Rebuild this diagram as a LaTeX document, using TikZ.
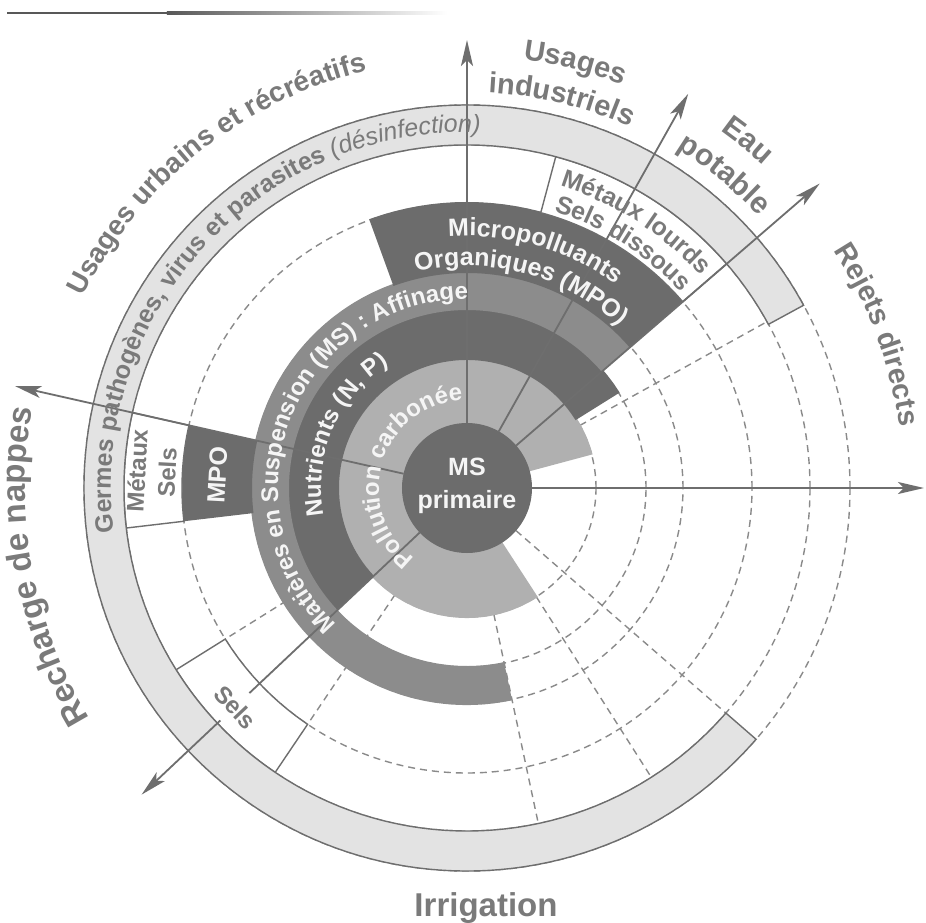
\documentclass[tikz,border=0pt]{standalone}
\usepackage{fontspec}
\setmainfont{Liberation Sans}
\usetikzlibrary{decorations.text,arrows.meta}
\definecolor{dk}{HTML}{6C6C6C}
\definecolor{md}{HTML}{8C8C8C}
\definecolor{lt}{HTML}{B0B0B0}
\definecolor{gm}{HTML}{E3E3E3}
\definecolor{ln}{HTML}{6E6E6E}
\definecolor{dl}{HTML}{8A8A8A}
\definecolor{tx}{HTML}{7A7A7A}
\definecolor{wt}{HTML}{F5F5F5}
\newcommand{\annsec}[5]{\fill[#1] (#2:#4) arc[start angle=#2,end angle=#3,radius=#4] -- (#3:#5) arc[start angle=#3,end angle=#2,radius=#5] -- cycle;}
\newcommand{\cwtext}[4]{\path[decorate,decoration={text along path,text align=center,text={#1}}] ({#2+#4}:#3) arc[start angle={#2+#4},end angle={#2-#4},radius=#3];}
\newcommand{\fsz}[1]{\fontsize{#1}{#1}\selectfont}
\begin{document}
\begin{tikzpicture}[x=1pt,y=1pt,
  dsh/.style={draw=dl, line width=1.4pt, dash pattern=on 7pt off 5pt},
  arr/.style={draw=ln, line width=1.8pt, -{Stealth[length=26pt,width=12pt,inset=6pt]}},
  bord/.style={draw=ln, line width=1.4pt}]
\useasboundingbox (-467,-434) rectangle (459,488);
\fill[white] (-467,-434) rectangle (459,488);
% top rule
\fill[ln!80!black] (-460,473.8) rectangle (-300,476.2);
\shade[left color=ln!80!black, right color=white] (-300,473.8) rectangle (-20,476.2);
% dashed circles and radials
\foreach \rr in {129,179,216,285,343,383} \draw[dsh] (0,0) circle[radius=\rr];
\draw[dsh] (29:129) -- (29:343);
\draw[dsh] (-41:65) -- (-41:343);
\draw[dsh] (-57.5:129) -- (-57.5:343);
\draw[dsh] (-78:129) -- (-78:343);
\draw[dsh] (212:129) -- (212:285);
\draw[dsh] (236:129) -- (236:285);
% rings
\annsec{lt}{15}{303}{64}{130}
\annsec{dk}{32}{223.3}{128}{180}
\annsec{md}{40.8}{282}{178}{217}
\annsec{dk}{40.8}{110}{215}{286}
\annsec{dk}{167.3}{186.7}{215}{286}
\annsec{white,bord}{40.8}{75}{285}{343}
\annsec{white,bord}{167.3}{186.7}{285}{343}
\annsec{white,bord}{212}{236}{285}{343}
\annsec{gm,bord}{28.5}{319}{343}{383}
\fill[dk] (0,0) circle[radius=65];
% arrows
\coordinate (s90) at (90:65);    \coordinate (e90) at (90:448);
\coordinate (s60) at (60.7:65);  \coordinate (e60) at (60.7:452);
\coordinate (s41) at (40.8:65);  \coordinate (e41) at (40.8:466);
\coordinate (s0) at (0:65);      \coordinate (e0) at (0:457);
\coordinate (s167) at (167.3:65);\coordinate (e167) at (167.3:463);
\coordinate (s223) at (223.3:65);\coordinate (e223) at (223.3:447);
\draw[arr] (s90) -- (e90);
\draw[arr] (s60) -- (e60);
\draw[arr] (s41) -- (e41);
\draw[arr] (s0) -- (e0);
\draw[arr] (s167) -- (e167);
\draw[arr] (s223) -- (e223);
% labels
\node[font=\fontsize{25}{33}\selectfont\bfseries, text=wt, align=center] (ms) at (0,2) {MS\\primaire};
\node[font=\fontsize{25}{30}\selectfont\bfseries, text=wt, rotate=87] (mpol) at (177:250) {MPO};
\node[font=\fontsize{24}{30}\selectfont\bfseries, text=tx, rotate=87, align=center] (mets) at (177:315.5) {Métaux\\Sels};
\node[font=\fontsize{24}{28}\selectfont\bfseries, text=tx, rotate=-46.6, fill=white, inner xsep=1pt, inner ysep=11pt] (sels) at (223.4:319) {Sels};
\node[font=\fsz{33}\bfseries, text=tx, anchor=base] (irr) at (19,-428) {Irrigation};
\cwtext{|\fsz{28}\bfseries\color{tx}|Usages urbains et récréatifs}{128.5}{429}{40}
\cwtext{|\fsz{29}\bfseries\color{tx}|Usages}{75.7}{432}{25}
\cwtext{|\fsz{29}\bfseries\color{tx}|industriels}{76.3}{396}{30}
\cwtext{|\fsz{30}\bfseries\color{tx}|Eau}{51}{438}{20}
\cwtext{|\fsz{30}\bfseries\color{tx}|potable}{50.6}{399}{25}
\cwtext{|\fsz{29}\bfseries\color{tx}|Rejets directs}{20.5}{437}{30}
\cwtext{|\fsz{33}\bfseries\color{tx}|Recharge de nappes}{190.5}{442}{35}
\cwtext{|\fsz{25}\bfseries\color{tx}|Germes pathogènes, virus et parasites |\fsz{25}\mdseries\itshape\color{tx}|(désinfection)}{137.5}{356}{65}
\cwtext{|\fsz{24}\bfseries\color{wt}|Matières en Suspension (MS) : Affinage}{158}{189}{85}
\cwtext{|\fsz{24}\bfseries\color{wt}|Nutrients (N, P)}{156.5}{146}{50}
\cwtext{|\fsz{24}\bfseries\color{wt}|Pollution carbonée}{163}{88}{85}
\cwtext{|\fsz{25}\bfseries\color{wt}|Micropolluants}{74}{252}{35}
\cwtext{|\fsz{25}\bfseries\color{wt}|Organiques (MPO)}{75}{222}{40}
\cwtext{|\fsz{25}\bfseries\color{tx}|Métaux lourds}{57.5}{316}{30}
\cwtext{|\fsz{25}\bfseries\color{tx}|Sels dissous}{57.5}{290}{30}
\end{tikzpicture}
\end{document}
